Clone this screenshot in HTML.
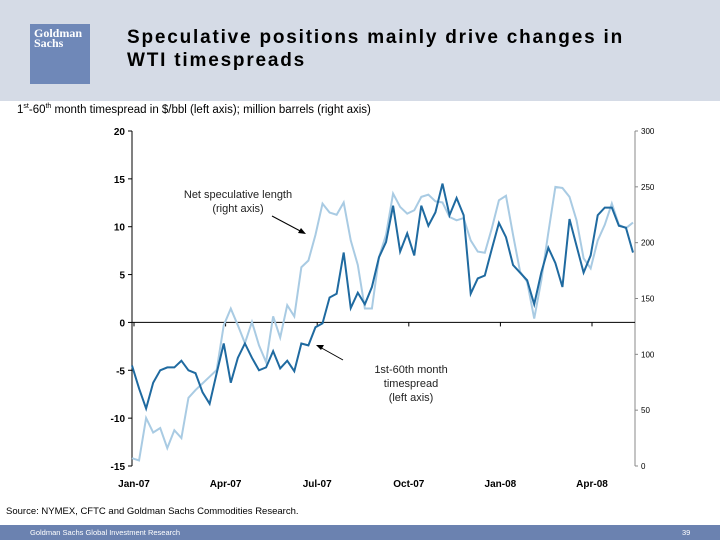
<!DOCTYPE html>
<html><head><meta charset="utf-8">
<style>
body{margin:0;width:720px;height:540px;overflow:hidden;background:#fff;font-family:"Liberation Sans",sans-serif;position:relative}
.abs{position:absolute}
</style></head><body>
<div class="abs" style="left:0;top:0;width:720px;height:101px;background:#d5dbe6"></div>
<div class="abs" style="left:30px;top:24px;width:60px;height:60px;background:#6f88b8;color:#fff;font-family:'Liberation Serif',serif;font-size:12px;line-height:10px;font-weight:bold;padding:4px 0 0 4px;box-sizing:border-box">Goldman<br>Sachs</div>
<div class="abs" style="left:127px;top:26px;font-size:19px;font-weight:bold;line-height:23px;letter-spacing:1.8px">Speculative positions mainly drive changes in<br>WTI timespreads</div>
<div class="abs" style="left:17px;top:103px;font-size:11.5px">1<sup style="font-size:7px">st</sup>-60<sup style="font-size:7px">th</sup> month timespread in $/bbl (left axis); million barrels (right axis)</div>
<div class="abs" style="left:6px;top:506px;font-size:9.5px">Source: NYMEX, CFTC and Goldman Sachs Commodities Research.</div>
<div class="abs" style="left:0;top:525px;width:720px;height:15px;background:#6b82b0;color:#fff;font-size:7.5px;line-height:15px">
<span style="position:absolute;left:30px">Goldman Sachs Global Investment Research</span>
<span style="position:absolute;left:682px">39</span></div>
<svg id="chart" class="abs" style="left:0;top:0" width="720" height="540"></svg>
<script>
const spread=[-4.5,-6.9,-9,-6.3,-5,-4.7,-4.7,-4,-5,-5.3,-7.3,-8.5,-5.3,-2.2,-6.3,-3.7,-2.2,-3.7,-5,-4.7,-3,-4.8,-4,-5.1,-2.2,-2.4,-0.5,-0.1,2.6,3,7.3,1.5,3.1,1.9,3.7,6.8,8.4,12.2,7.4,9.3,7,12.2,10.1,11.5,14.5,11.2,13,11.2,3,4.6,4.9,7.7,10.4,8.9,6,5.2,4.4,1.9,5.2,7.8,6.2,3.7,10.8,8,5.2,7,11.2,12,12,10.1,9.9,7.3];
const specLength=[7,5,43,30,34,16,32,25,61,68,74,80,86,126,141,126,110,129,108,93,134,115,144,134,178,184,207,235,227,225,236,202,180,141,141,187,207,244,232,226,229,241,243,237,236,223,220,222,202,192,191,213,238,242,207,174,165,132,166,209,250,249,241,220,186,177,202,216,235,216,213,218];
const leftTicks=[20,15,10,5,0,-5,-10,-15];
const rightTicks=[300,250,200,150,100,50,0];
const xLabels=["Jan-07","Apr-07","Jul-07","Oct-07","Jan-08","Apr-08"];
const X0=132,X1=635,TOP=131,BOT=466;
const yL=v=>BOT-(v+15)/35*(BOT-TOP);
const yR=v=>BOT-v/300*(BOT-TOP);
const xI=i=>X0+i*(X1-2-X0)/(spread.length-1);
const svg=document.getElementById('chart');const NS='http://www.w3.org/2000/svg';
function mk(t,a,txt){const e=document.createElementNS(NS,t);for(const k in a)e.setAttribute(k,a[k]);if(txt!=null)e.textContent=txt;svg.appendChild(e);return e;}
let e;
e=mk('line',{x1:X0,y1:TOP,x2:X0,y2:BOT,stroke:'#000','stroke-width':1});


e=mk('line',{x1:X1,y1:TOP,x2:X1,y2:BOT,stroke:'#888','stroke-width':1});


e=mk('line',{x1:X0,y1:yL(0),x2:X1,y2:yL(0),stroke:'#000','stroke-width':1});


leftTicks.forEach(v=>{const y=yL(v);
mk('line',{x1:X0-4,y1:y,x2:X0,y2:y,stroke:'#000'});
e=mk('text',{x:X0-7,y:y+4,'text-anchor':'end','font-size':'10','font-weight':'bold','font-family':'Liberation Sans'},v);

});
rightTicks.forEach(v=>{const y=yR(v);
mk('line',{x1:X1,y1:y,x2:X1+3,y2:y,stroke:'#888'});
e=mk('text',{x:X1+6,y:y+3,'font-size':'8','font-family':'Liberation Sans'},v);

});
xLabels.forEach((l,i)=>{const x=134+i*91.6;
mk('line',{x1:x,y1:yL(0),x2:x,y2:yL(0)+4,stroke:'#000'});
e=mk('text',{x:x,y:487,'text-anchor':'middle','font-size':'10','font-weight':'bold','font-family':'Liberation Sans'},l);

});
e=mk('polyline',{points:specLength.map((v,i)=>xI(i)+','+yR(v)).join(' '),fill:'none',stroke:'#a9cbe3','stroke-width':2});


e=mk('polyline',{points:spread.map((v,i)=>xI(i)+','+yL(v)).join(' '),fill:'none',stroke:'#1f6aa0','stroke-width':2});


function ann(lines,x,y,name){lines.forEach((l,i)=>{e=mk('text',{x:x,y:y+i*14,'text-anchor':'middle','font-size':'11','fill':'#222','font-family':'Liberation Sans'},l);

});}
ann(['Net speculative length','(right axis)'],238,198,'annotation-net-length');
ann(['1st-60th month','timespread','(left axis)'],411,373,'annotation-timespread');
mk('line',{x1:272,y1:216,x2:304,y2:233,stroke:'#000'});
mk('polygon',{points:'306,234 298,233 301,228',fill:'#000'});
mk('line',{x1:343,y1:360,x2:318,y2:346,stroke:'#000'});
mk('polygon',{points:'316,345 324,345 321,350',fill:'#000'});
</script>
</body></html>
